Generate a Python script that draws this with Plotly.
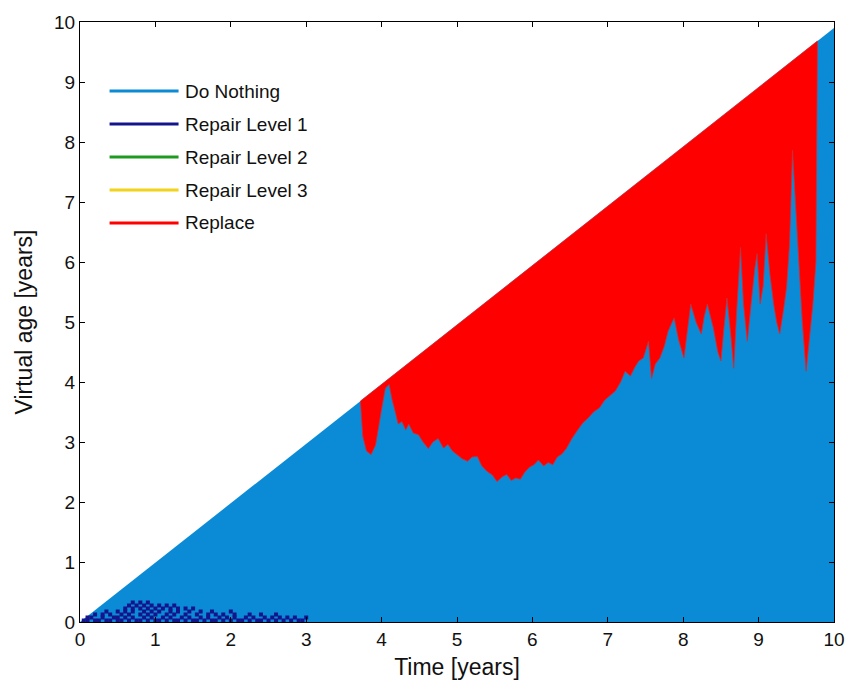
import numpy as np
import plotly.graph_objects as go

# ---------------- data ----------------
series_names = ["Do Nothing", "Repair Level 1", "Repair Level 2", "Repair Level 3", "Replace"]
series_colors = ["#0b8ad6", "#14148c", "#1e9a1e", "#f2d21a", "#ff0000"]

# diagonal (maximum virtual age reachable at a given time)
diag_time = [0.0, 10.0]
diag_age = [0.0, 9.9]

# lower boundary of the "Replace" region
replace_time = [3.72, 3.75, 3.80, 3.86, 3.92, 3.96, 4.00, 4.05, 4.10, 4.14, 4.18, 4.22, 4.27, 4.32,
                4.36, 4.42, 4.49, 4.55, 4.62, 4.68, 4.75, 4.82, 4.88, 4.94, 5.00, 5.07, 5.14, 5.20,
                5.27, 5.33, 5.40, 5.47, 5.53, 5.60, 5.66, 5.72, 5.78, 5.84, 5.90, 5.96, 6.02, 6.08,
                6.15, 6.21, 6.27, 6.33, 6.39, 6.45, 6.52, 6.60, 6.67, 6.74, 6.81, 6.89, 6.96, 7.03,
                7.10, 7.17, 7.23, 7.30, 7.36, 7.41, 7.47, 7.54, 7.58, 7.63, 7.69, 7.75, 7.80, 7.88,
                7.94, 8.01, 8.06, 8.10, 8.17, 8.24, 8.28, 8.32, 8.40, 8.46, 8.50, 8.54, 8.58, 8.63,
                8.67, 8.71, 8.76, 8.80, 8.85, 8.90, 8.95, 8.98, 9.02, 9.06, 9.10, 9.15, 9.20, 9.24,
                9.28, 9.33, 9.37, 9.41, 9.45, 9.49, 9.54, 9.58, 9.63, 9.68, 9.72, 9.76, 9.78]
replace_low = [3.68, 3.10, 2.85, 2.79, 2.95, 3.23, 3.55, 3.90, 3.96, 3.70, 3.51, 3.30, 3.34, 3.20,
               3.30, 3.15, 3.12, 3.00, 2.89, 3.00, 3.06, 2.90, 2.96, 2.85, 2.79, 2.72, 2.68, 2.75,
               2.76, 2.60, 2.51, 2.45, 2.34, 2.42, 2.46, 2.36, 2.40, 2.38, 2.50, 2.58, 2.62, 2.70,
               2.60, 2.66, 2.62, 2.75, 2.80, 2.89, 3.05, 3.20, 3.32, 3.40, 3.50, 3.57, 3.70, 3.78,
               3.85, 4.00, 4.18, 4.10, 4.25, 4.35, 4.40, 4.68, 4.06, 4.30, 4.40, 4.60, 4.85, 5.07,
               4.70, 4.40, 4.90, 5.30, 5.00, 4.80, 5.10, 5.30, 4.90, 4.50, 4.35, 4.90, 5.40, 4.80,
               4.23, 5.20, 6.24, 5.30, 4.68, 5.30, 5.90, 6.14, 5.30, 5.60, 6.47, 5.80, 5.30, 5.00,
               4.80, 5.20, 5.57, 6.30, 7.86, 6.80, 5.85, 5.00, 4.18, 4.80, 5.30, 6.00, 9.66]

# Repair Level 1 cells, listed row by row (virtual age of row, times of cells)
repair_rows_age = [0.025, 0.075, 0.125, 0.175, 0.225, 0.275, 0.325]
repair_rows_time = [
    [0.05, 0.10, 0.20, 0.25, 0.35, 0.40, 0.50, 0.55, 0.65, 0.75, 0.80, 0.90, 1.00, 1.05, 1.15,
     1.25, 1.30, 1.40, 1.50, 1.55, 1.65, 1.75, 1.80, 1.90, 2.00, 2.10, 2.15, 2.25, 2.35, 2.40,
     2.50, 2.60, 2.70, 2.80, 2.90, 2.95],
    [0.10, 0.15, 0.30, 0.45, 0.50, 0.60, 0.70, 0.85, 0.95, 1.10, 1.20, 1.35, 1.45, 1.60, 1.70,
     1.85, 1.95, 2.05, 2.20, 2.30, 2.45, 2.55, 2.65, 2.75, 2.85, 3.00],
    [0.20, 0.30, 0.40, 0.55, 0.65, 0.80, 0.90, 1.00, 1.15, 1.25, 1.40, 1.55, 1.70, 1.80, 1.90,
     2.05, 2.25, 2.40, 2.60],
    [0.35, 0.50, 0.60, 0.70, 0.85, 0.95, 1.05, 1.20, 1.30, 1.45, 1.60, 1.75, 2.00],
    [0.60, 0.70, 0.80, 0.90, 1.00, 1.10, 1.20, 1.30, 1.40, 1.50],
    [0.65, 0.75, 0.85, 0.95, 1.05, 1.15, 1.25],
    [0.70, 0.80, 0.90],
]

x_ticks = [0, 1, 2, 3, 4, 5, 6, 7, 8, 9, 10]
y_ticks = [0, 1, 2, 3, 4, 5, 6, 7, 8, 9, 10]

# ---------------- figure ----------------
FONT = "Liberation Sans, Arial"
fig = go.Figure()

# Do Nothing: whole triangle under the diagonal
dn_x = [diag_time[0], diag_time[1], diag_time[1], diag_time[0]]
dn_y = [diag_age[0], 0.0, diag_age[1], diag_age[0]]
fig.add_trace(go.Scatter(x=dn_x, y=dn_y, fill="toself", mode="none",
                         fillcolor=series_colors[0], name=series_names[0],
                         showlegend=False, hoverinfo="skip"))

# Replace region: between lower boundary and diagonal
rt = np.array(replace_time)
upper = np.interp(rt, diag_time, diag_age)
rx = np.concatenate([rt, rt[::-1]])
ry = np.concatenate([upper, np.array(replace_low)[::-1]])
fig.add_trace(go.Scatter(x=rx, y=ry, fill="toself", mode="lines",
                         line=dict(color="#c8303a", width=0.8),
                         fillcolor=series_colors[4], name=series_names[4],
                         showlegend=False, hoverinfo="skip"))

# Repair level 1 cells
r_x, r_y = [], []
for age, times in zip(repair_rows_age, repair_rows_time):
    for t in times:
        r_x.append(t)
        r_y.append(age)
fig.add_trace(go.Scatter(x=r_x, y=r_y, mode="markers",
                         marker=dict(symbol="square", size=4, color=series_colors[1],
                                     line=dict(width=0)),
                         name=series_names[1], showlegend=False, hoverinfo="skip"))

# ---------------- manual MATLAB-style legend ----------------
L, T, W, H = 80, 22, 765, 600  # plot area in pixels (for legend placement)
shapes = []
annotations = []
leg_x0, leg_x1, leg_tx = 110, 180, 185
leg_y0, leg_dy = 91, 33.0
for i, (nm, col) in enumerate(zip(series_names, series_colors)):
    py = leg_y0 + i * leg_dy
    yp = 1 - (py - T) / H
    shapes.append(dict(type="line", xref="paper", yref="paper",
                       x0=(leg_x0 - L) / W, x1=(leg_x1 - L) / W, y0=yp, y1=yp,
                       line=dict(color=col, width=3)))
    annotations.append(dict(xref="paper", yref="paper", x=(leg_tx - L) / W, y=yp,
                            text=nm, showarrow=False, xanchor="left", yanchor="middle",
                            font=dict(family=FONT, size=19, color="#111111")))

axis_common = dict(
    showgrid=False, zeroline=False, showline=True, linecolor="black", linewidth=1.2,
    mirror="ticks", ticks="inside", ticklen=5, tickcolor="black", tickwidth=1,
    tickfont=dict(family=FONT, size=19, color="#111111"),
)

fig.update_layout(
    width=856, height=692,
    margin=dict(l=L, r=856 - L - W, t=T, b=692 - T - H),
    paper_bgcolor="white", plot_bgcolor="white",
    showlegend=False,
    shapes=shapes, annotations=annotations,
    xaxis=dict(range=[0, 10], tickvals=x_ticks, ticktext=[str(v) for v in x_ticks],
               title=dict(text="Time [years]", font=dict(family=FONT, size=23, color="#111111"),
                          standoff=9),
               **axis_common),
    yaxis=dict(range=[0, 10], tickvals=y_ticks, ticktext=[str(v) for v in y_ticks],
               title=dict(text="Virtual age [years]", font=dict(family=FONT, size=23, color="#111111"),
                          standoff=14),
               **axis_common),
)

fig.write_html("out.html")
